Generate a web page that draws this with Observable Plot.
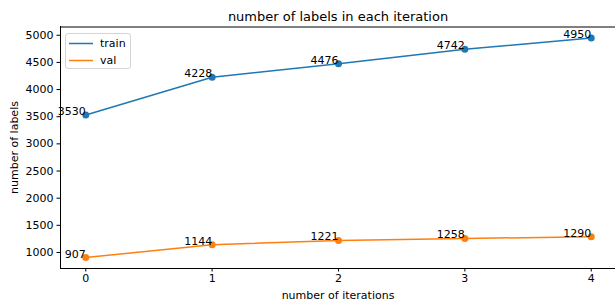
<!DOCTYPE html>
<html>
<head>
<meta charset="utf-8">
<script src="https://cdn.jsdelivr.net/npm/d3@7"></script>
<script src="https://cdn.jsdelivr.net/npm/@observablehq/plot@0.6"></script>
<style>
  html, body { margin: 0; padding: 0; background: #fff; }
  #wrap { position: relative; width: 615px; height: 301px; font-family: "DejaVu Sans", sans-serif; }
  #legend { position: absolute; left: 65px; top: 33px; width: 66px; height: 36px; border: 1px solid #d5d5d5; border-radius: 3px; background: rgba(255,255,255,0.8); font-size: 11px; color: #000; box-sizing: border-box; }
  .item { position: absolute; left: 0; height: 13px; line-height: 13px; }
  .item svg { position: absolute; left: 3px; top: 0; }
  .item span { position: absolute; left: 34px; top: 0; white-space: nowrap; }
</style>
</head>
<body>
<div id="wrap"></div>
<script>
const iterations = [0, 1, 2, 3, 4];
const trainValues = [3530, 4228, 4476, 4742, 4950];
const valValues = [907, 1144, 1221, 1258, 1290];
const seriesNames = ["train", "val"];
const seriesColors = ["#1f77b4", "#ff7f0e"];
const yTicks = [1000, 1500, 2000, 2500, 3000, 3500, 4000, 4500, 5000];
const titleText = "number of labels in each iteration";
const xLabel = "number of iterations";
const yLabel = "number of labels";

const data = [
  ...iterations.map((it, i) => ({iter: it, value: trainValues[i], series: "train"})),
  ...iterations.map((it, i) => ({iter: it, value: valValues[i], series: "val"}))
];

const xMin = -0.2, xMax = 4.2;
const yMin = 705, yMax = 5152;

const chart = Plot.plot({
  width: 615,
  height: 301,
  marginLeft: 60,
  marginRight: 0,
  marginTop: 26,
  marginBottom: 33,
  style: {fontFamily: "DejaVu Sans", fontSize: "11px", color: "#000", background: "#fff", overflow: "visible"},
  x: {domain: [xMin, xMax], range: [60, 616]},
  y: {domain: [yMin, yMax], range: [268, 26.5]},
  color: {domain: seriesNames, range: seriesColors},
  marks: [
    Plot.ruleX([xMin], {stroke: "#000", strokeWidth: 1}),
    Plot.ruleY([yMin, yMax], {stroke: "#000", strokeWidth: 1}),
    Plot.axisX({ticks: iterations, tickFormat: d => String(d), tickSize: 3.5, tickPadding: 2.5, label: xLabel, labelAnchor: "center", labelArrow: "none", labelOffset: 30, fontSize: 11}),
    Plot.axisY({ticks: yTicks, tickFormat: d => String(d), tickSize: 3.5, tickPadding: 3.5, label: yLabel, labelAnchor: "center", labelArrow: "none", labelOffset: 50, fontSize: 11}),
    Plot.line(data, {x: "iter", y: "value", z: "series", stroke: "series", strokeWidth: 1.5}),
    Plot.dot(data, {x: "iter", y: "value", fill: "series", r: 3.5}),
    Plot.text(data, {x: "iter", y: "value", text: d => String(d.value), textAnchor: "end", lineAnchor: "bottom", dx: 0, dy: 0, fill: "#000", fontSize: 11}),
    Plot.text([titleText], {frameAnchor: "top", text: d => d, lineAnchor: "bottom", dy: -6, fontSize: 13, fill: "#000"})
  ]
});

const wrap = document.getElementById("wrap");
wrap.appendChild(chart);

const legend = document.createElement("div");
legend.id = "legend";
seriesNames.forEach((name, i) => {
  const item = document.createElement("div");
  item.className = "item";
  item.style.top = (3 + i * 17) + "px";
  item.innerHTML = `<svg width="26" height="13"><line x1="0" x2="24" y1="6.5" y2="6.5" stroke="${seriesColors[i]}" stroke-width="1.5"/></svg><span>${name}</span>`;
  legend.appendChild(item);
});
wrap.appendChild(legend);
</script>
</body>
</html>
